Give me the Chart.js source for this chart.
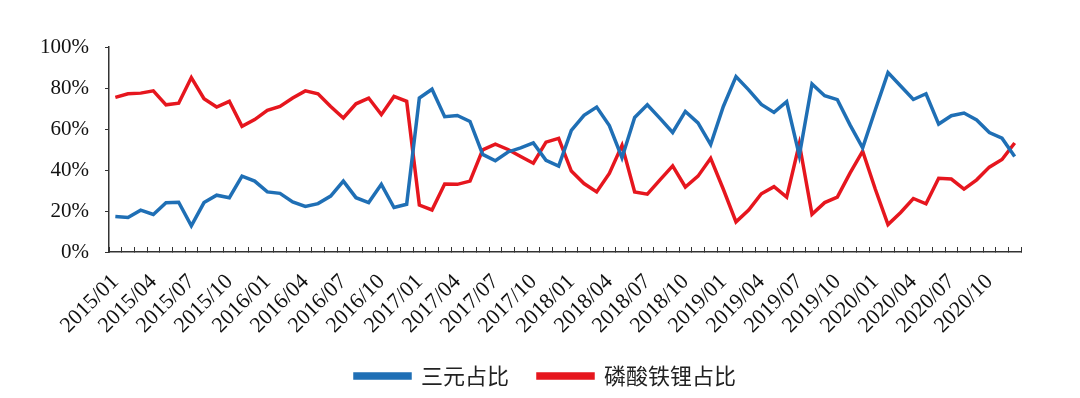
<!DOCTYPE html>
<html>
<head>
<meta charset="utf-8">
<title>三元 / 磷酸铁锂 占比</title>
<script src="https://cdn.jsdelivr.net/npm/chart.js@4.4.1/dist/chart.umd.min.js"></script>
<style>
	body { margin: 0; background: #ffffff; }
	#chart { display: block; }
</style>
</head>
<body>
<canvas id="chart" width="1080" height="398"></canvas>
<script>
	// months 2015/01 .. 2020/12
	var years = ["2015", "2016", "2017", "2018", "2019", "2020"];
	var months = ["01", "02", "03", "04", "05", "06", "07", "08", "09", "10", "11", "12"];
	var categories = [];
	years.forEach(function (y) {
		months.forEach(function (m) {
			categories.push(y + "/" + m);
		});
	});

	// 三元占比 (%)
	var ternaryShare = [
		17.3, 16.8, 20.4, 18.3, 24.0, 24.3, 12.8, 24.1, 27.7, 26.5, 37.0, 34.6,
		29.3, 28.6, 24.4, 22.2, 23.6, 27.3, 34.6, 26.5, 24.1, 33.0, 21.7, 23.3,
		75.1, 79.4, 66.0, 66.6, 63.7, 47.6, 44.5, 48.8, 50.8, 53.2, 44.7, 41.9,
		59.3, 66.7, 70.7, 61.7, 46.0, 65.6, 71.8, 65.2, 58.3, 68.6, 63.0, 52.4,
		71.0, 85.6, 79.1, 72.0, 68.1, 73.3, 47.0, 82.0, 76.2, 74.3, 62.0, 50.8,
		69.4, 87.5, 81.0, 74.4, 77.2, 62.4, 66.5, 67.8, 64.4, 58.3, 55.5, 46.6
	];

	// 磷酸铁锂占比 (%)
	var lfpShare = [
		75.4, 77.2, 77.5, 78.6, 71.8, 72.6, 85.1, 74.8, 70.7, 73.5, 61.3, 64.6,
		69.1, 71.0, 75.1, 78.6, 77.2, 71.0, 65.4, 72.3, 75.1, 67.0, 75.9, 73.5,
		22.9, 20.5, 33.2, 33.0, 34.6, 49.8, 52.6, 50.0, 46.6, 43.3, 53.6, 55.4,
		39.5, 33.4, 29.3, 38.3, 52.0, 29.3, 28.2, 35.2, 42.0, 31.7, 37.0, 45.7,
		30.6, 14.7, 20.5, 28.4, 31.9, 26.8, 52.8, 18.4, 24.1, 26.8, 38.5, 49.2,
		30.6, 13.4, 19.3, 26.1, 23.5, 36.0, 35.6, 30.7, 35.2, 41.4, 45.1, 53.2
	];

	var yTicks = [0, 20, 40, 60, 80, 100];

	var blue = "#1f6fb5";
	var red = "#e6161e";
	var axisColor = "#333333";
	var yFont = { family: "'Liberation Serif', 'Times New Roman', serif", size: 21 };
	var xFont = { family: "'Liberation Serif', 'Times New Roman', serif", size: 22 };

	// the legend sits a bit right of the canvas centre in the original
	var legendShift = {
		id: 'legendShift',
		afterLayout: function (chart) {
			if (chart.legend) {
				chart.legend.left += 35;
				chart.legend.right += 35;
			}
		}
	};

	new Chart(document.getElementById("chart"), {
		type: 'line',
		data: {
			labels: categories,
			datasets: [{
				label: "三元占比",
				data: ternaryShare,
				borderColor: blue,
				backgroundColor: blue,
				borderWidth: 3.5,
				pointRadius: 0,
				tension: 0
			}, {
				label: "磷酸铁锂占比",
				data: lfpShare,
				borderColor: red,
				backgroundColor: red,
				borderWidth: 3.5,
				pointRadius: 0,
				tension: 0
			}]
		},
		plugins: [legendShift],
		options: {
			responsive: false,
			animation: false,
			layout: {
				padding: { left: 0, right: 59, top: 47, bottom: 1 }
			},
			plugins: {
				tooltip: { enabled: false },
				legend: {
					position: 'bottom',
					labels: {
						boxWidth: 55,
						boxHeight: 4,
						padding: 29,
						color: "#222222",
						font: { family: "'Noto Sans CJK SC', sans-serif", size: 22 }
					}
				}
			},
			scales: {
				x: {
					type: 'category',
					offset: true,
					border: { display: true, color: axisColor, width: 1.5 },
					grid: {
						offset: true,
						drawOnChartArea: false,
						color: axisColor,
						lineWidth: 1,
						tickLength: -5
					},
					ticks: {
						autoSkip: false,
						minRotation: 45,
						maxRotation: 45,
						padding: 22,
						color: "#111111",
						font: xFont,
						callback: function (value, index) {
							return index % 3 === 0 ? categories[index] : '';
						}
					},
					afterFit: function (scale) {
						scale.height = 84;
					}
				},
				y: {
					min: 0,
					max: 100,
					border: { display: true, color: axisColor, width: 1.5 },
					grid: {
						drawOnChartArea: false,
						color: axisColor,
						tickLength: 4
					},
					afterBuildTicks: function (scale) {
						scale.ticks = yTicks.map(function (v) { return { value: v }; });
					},
					ticks: {
						padding: 16,
						color: "#111111",
						font: yFont,
						callback: function (value) {
							return value + '%';
						}
					},
					afterFit: function (scale) {
						scale.width = 109;
					}
				}
			}
		}
	});
</script>
</body>
</html>
